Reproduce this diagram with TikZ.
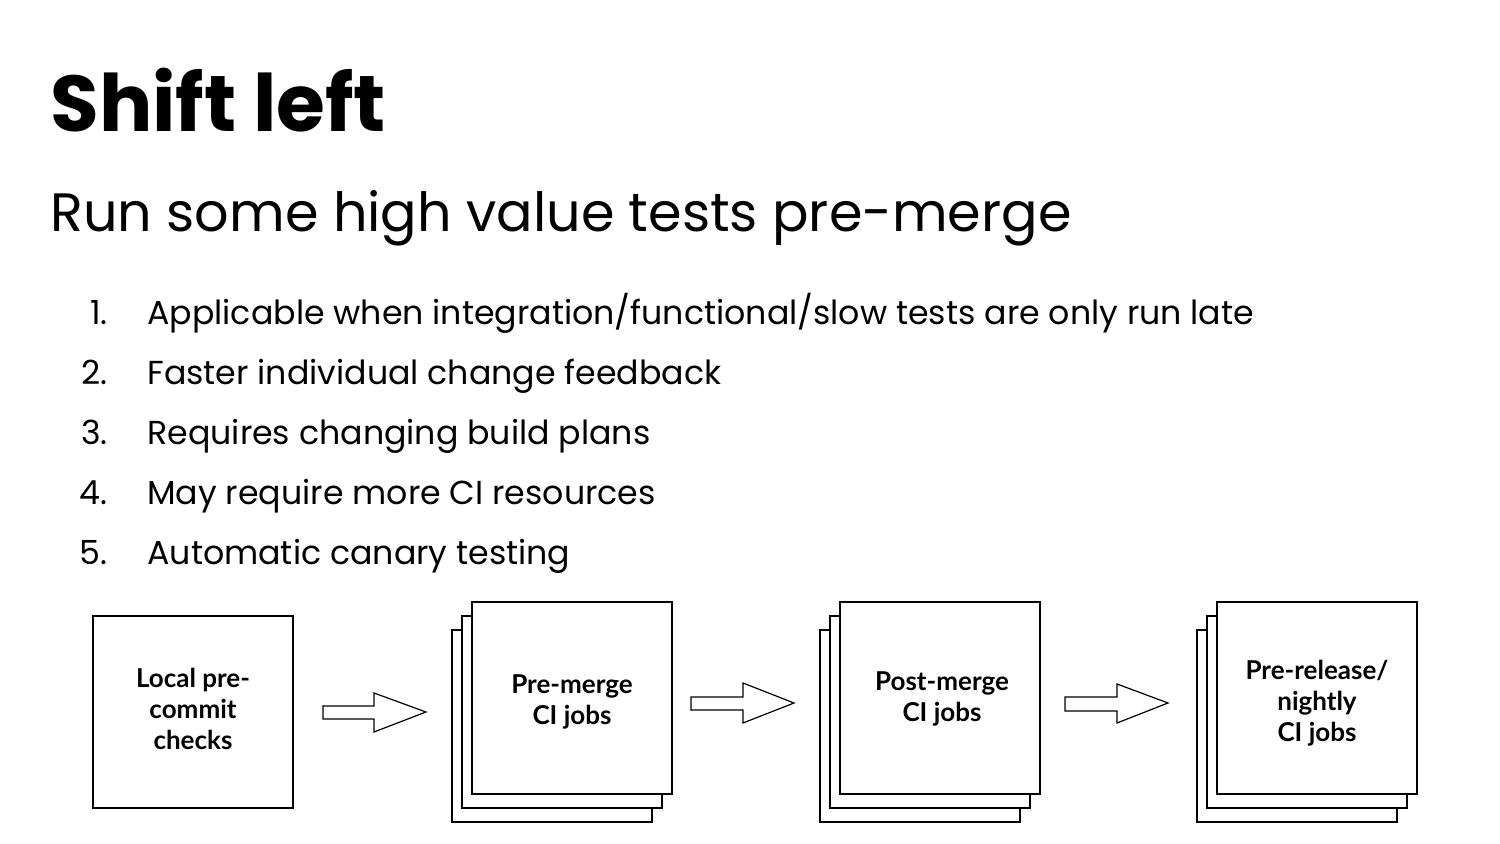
\documentclass[tikz,border=0pt]{standalone}
\usepackage{fontspec}
\setmainfont{Poppins}
\newfontfamily\boxfont{Lato}
\usetikzlibrary{positioning}
\begin{document}
\begin{tikzpicture}[x=0.5pt,y=-0.5pt,
  box/.style={draw=black, line width=1pt, fill=white, minimum width=100pt, minimum height=96pt, inner sep=0pt, outer sep=0pt},
  boxtext/.style={font=\boxfont\bfseries\fontsize{13}{15.5}\selectfont, align=center, text=black},
  blockarrow/.style={draw=black, line width=0.6pt, fill=white, line join=miter},
  listnum/.style={anchor=base east, font=\fontsize{16.6}{19}\selectfont},
  listtext/.style={anchor=base west, font=\fontsize{16.6}{19}\selectfont}
]
\useasboundingbox (0,0) rectangle (1500,844);
\fill[white] (0,0) rectangle (1500,844);

\node[anchor=base west, inner sep=0pt, font=\fontsize{39.6}{44}\selectfont\bfseries] (title) at (50,132) {Shift left};
\node[anchor=base west, inner sep=0pt, font=\fontsize{27}{32}\selectfont] (sub) at (50,232) {Run some high value tests pre-merge};

\foreach \n/\y/\t in {1/325/{Applicable when integration/functional/slow tests are only run late},
                      2/385/{Faster individual change feedback},
                      3/445/{Requires changing build plans},
                      4/505/{May require more CI resources},
                      5/565/{Automatic canary testing}}{
  \node[listnum, inner sep=0pt] (n\n) at (108,\y) {\n.};
  \node[listtext, inner sep=0pt] (t\n) at (147,\y) {\t};
}

% Box 1
\node[box] (b1) at (193,712) {};
\node[boxtext] (l1) at ([yshift=1.5pt]b1.center) {Local pre-\\commit\\checks};

% Box 2 stack
\node[box] (b2c) at (552,725.5) {};
\node[box] (b2b) at (562,712) {};
\node[box] (b2) at (572,698) {};
\node[boxtext] (l2) at ([yshift=-2pt]b2.center) {Pre-merge\\CI jobs};

% Box 3 stack
\node[box] (b3c) at (920,725.5) {};
\node[box] (b3b) at (930,712) {};
\node[box] (b3) at (940,698) {};
\node[boxtext] (l3) at ([xshift=1pt,yshift=-0.5pt]b3.center) {Post-merge\\CI jobs};

% Box 4 stack
\node[box] (b4c) at (1297,725.5) {};
\node[box] (b4b) at (1307,712) {};
\node[box] (b4) at (1317,698) {};
\node[boxtext] (l4) at ([yshift=-2.5pt]b4.center) {Pre-release/\\nightly\\CI jobs};

% Block arrows
\draw[blockarrow] (323,706) -- (374,706) -- (374,693) -- (426,712) -- (374,732) -- (374,719) -- (323,719) -- cycle;
\draw[blockarrow] (691,697) -- (743,697) -- (743,683) -- (794,703) -- (743,723) -- (743,710) -- (691,710) -- cycle;
\draw[blockarrow] (1065,697) -- (1117,697) -- (1117,684) -- (1168,703) -- (1117,723) -- (1117,711) -- (1065,711) -- cycle;
\end{tikzpicture}
\end{document}
